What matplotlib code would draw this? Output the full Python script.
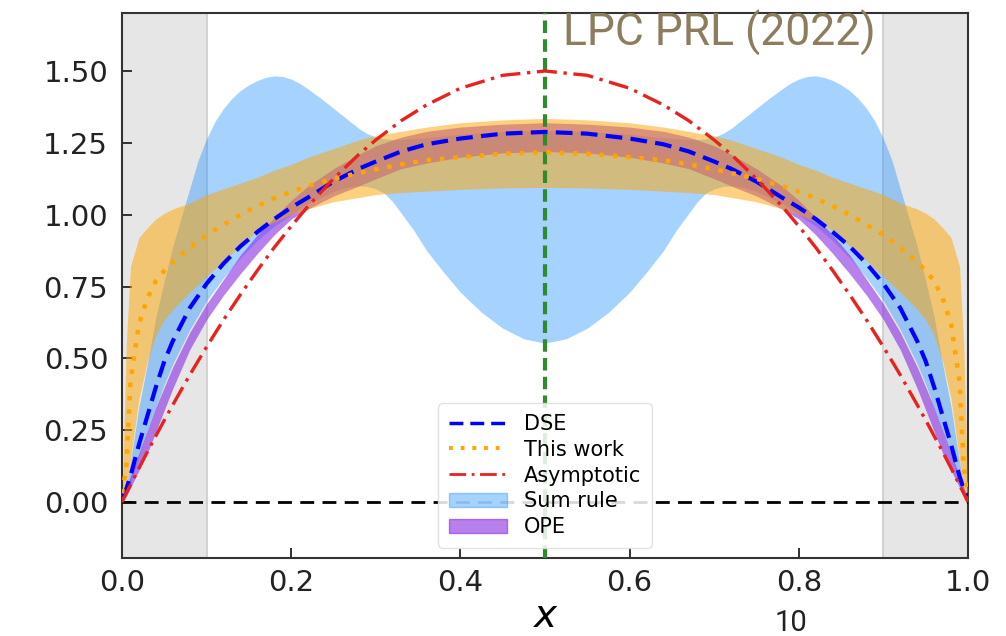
import matplotlib
matplotlib.use("Agg")
import matplotlib.pyplot as plt
from matplotlib.patches import Patch
from matplotlib.lines import Line2D

# sample positions along x
x = [0.0, 0.005, 0.01, 0.02, 0.03, 0.04, 0.05, 0.06, 0.08, 0.10, 0.12, 0.14,
     0.16, 0.18, 0.20, 0.22, 0.25, 0.28, 0.30, 0.33, 0.36, 0.40, 0.45, 0.50,
     0.55, 0.60, 0.64, 0.67, 0.70, 0.72, 0.75, 0.78, 0.80, 0.82, 0.84, 0.86,
     0.88, 0.90, 0.92, 0.94, 0.95, 0.96, 0.97, 0.98, 0.99, 0.995, 1.0]

asymptotic = [0.0, 0.030, 0.059, 0.118, 0.175, 0.230, 0.285, 0.338, 0.442, 0.540, 0.634, 0.722,
              0.806, 0.886, 0.960, 1.030, 1.125, 1.210, 1.260, 1.327, 1.382, 1.440, 1.485, 1.500,
              1.485, 1.440, 1.382, 1.327, 1.260, 1.210, 1.125, 1.030, 0.960, 0.886, 0.806, 0.722,
              0.634, 0.540, 0.442, 0.338, 0.285, 0.230, 0.175, 0.118, 0.059, 0.030, 0.0]

dse = [0.02, 0.045, 0.09, 0.20, 0.30, 0.40, 0.49, 0.56, 0.675, 0.76, 0.83, 0.89,
       0.94, 0.985, 1.025, 1.06, 1.115, 1.16, 1.185, 1.22, 1.245, 1.265, 1.282, 1.288,
       1.282, 1.265, 1.245, 1.22, 1.185, 1.16, 1.115, 1.06, 1.025, 0.985, 0.94, 0.89,
       0.83, 0.76, 0.675, 0.56, 0.49, 0.40, 0.30, 0.20, 0.09, 0.045, 0.02]

this_work = [0.03, 0.12, 0.42, 0.62, 0.71, 0.77, 0.805, 0.835, 0.885, 0.93, 0.965, 1.0,
             1.03, 1.057, 1.08, 1.10, 1.125, 1.145, 1.158, 1.175, 1.19, 1.20, 1.212, 1.217,
             1.212, 1.20, 1.19, 1.175, 1.158, 1.145, 1.125, 1.10, 1.08, 1.057, 1.03, 1.0,
             0.965, 0.93, 0.885, 0.835, 0.805, 0.77, 0.71, 0.62, 0.42, 0.12, 0.03]

work_hi = [0.0, 0.55, 0.82, 0.92, 0.955, 0.985, 1.005, 1.02, 1.04, 1.07, 1.09, 1.11,
           1.13, 1.155, 1.175, 1.20, 1.23, 1.26, 1.275, 1.29, 1.305, 1.32, 1.33, 1.335,
           1.33, 1.32, 1.305, 1.29, 1.275, 1.26, 1.23, 1.20, 1.175, 1.155, 1.13, 1.11,
           1.09, 1.07, 1.04, 1.02, 1.005, 0.985, 0.955, 0.92, 0.82, 0.55, 0.0]

work_lo = [0.0, 0.05, 0.15, 0.36, 0.49, 0.58, 0.635, 0.67, 0.73, 0.785, 0.84, 0.89,
           0.945, 0.975, 1.0, 1.02, 1.045, 1.06, 1.07, 1.077, 1.082, 1.088, 1.093, 1.095,
           1.093, 1.088, 1.082, 1.077, 1.07, 1.06, 1.045, 1.02, 1.0, 0.975, 0.945, 0.89,
           0.84, 0.785, 0.73, 0.67, 0.635, 0.58, 0.49, 0.36, 0.15, 0.05, 0.0]

ope_lo = [0.0, 0.02, 0.05, 0.11, 0.17, 0.245, 0.32, 0.395, 0.53, 0.635, 0.72, 0.795,
          0.865, 0.93, 0.985, 1.02, 1.065, 1.10, 1.125, 1.16, 1.18, 1.20, 1.215, 1.22,
          1.215, 1.20, 1.18, 1.16, 1.125, 1.10, 1.065, 1.02, 0.985, 0.93, 0.865, 0.795,
          0.72, 0.635, 0.53, 0.395, 0.32, 0.245, 0.17, 0.11, 0.05, 0.02, 0.0]

ope_hi = [0.02, 0.05, 0.09, 0.17, 0.25, 0.33, 0.40, 0.47, 0.59, 0.69, 0.775, 0.86,
          0.93, 0.99, 1.05, 1.10, 1.16, 1.21, 1.24, 1.27, 1.29, 1.305, 1.315, 1.32,
          1.315, 1.305, 1.29, 1.27, 1.24, 1.21, 1.16, 1.10, 1.05, 0.99, 0.93, 0.86,
          0.775, 0.69, 0.59, 0.47, 0.40, 0.33, 0.25, 0.17, 0.09, 0.05, 0.02]

# sum rule band is wigglier, so it gets its own denser sampling
x_sum = [0.0, 0.005, 0.01, 0.02, 0.03, 0.04, 0.05, 0.06, 0.07, 0.08, 0.09, 0.10,
         0.11, 0.12, 0.13, 0.14, 0.15, 0.16, 0.17, 0.18, 0.19, 0.20, 0.21, 0.22,
         0.235, 0.25, 0.265, 0.28, 0.29, 0.30, 0.31, 0.32, 0.33, 0.345, 0.36, 0.38,
         0.40, 0.425, 0.45, 0.475, 0.50,
         0.525, 0.55, 0.575, 0.60, 0.62, 0.64, 0.655, 0.67, 0.68, 0.69, 0.70, 0.71,
         0.72, 0.735, 0.75, 0.765, 0.78, 0.79, 0.80, 0.81, 0.82, 0.83, 0.84, 0.85,
         0.86, 0.87, 0.88, 0.89, 0.90, 0.91, 0.92, 0.93, 0.94, 0.95, 0.96, 0.97,
         0.98, 0.99, 0.995, 1.0]

sum_hi = [0.0, 0.05, 0.14, 0.33, 0.48, 0.645, 0.77, 0.89, 0.99, 1.09, 1.19, 1.265,
          1.325, 1.37, 1.405, 1.432, 1.452, 1.467, 1.478, 1.483, 1.481, 1.472, 1.457, 1.437,
          1.405, 1.37, 1.335, 1.30, 1.282, 1.27, 1.264, 1.262, 1.262, 1.265, 1.268, 1.274,
          1.28, 1.285, 1.289, 1.291, 1.292,
          1.291, 1.289, 1.285, 1.28, 1.274, 1.268, 1.265, 1.262, 1.262, 1.264, 1.27, 1.282,
          1.30, 1.335, 1.37, 1.405, 1.437, 1.457, 1.472, 1.481, 1.483, 1.478, 1.467, 1.452,
          1.432, 1.405, 1.37, 1.325, 1.265, 1.19, 1.09, 0.99, 0.89, 0.77, 0.645, 0.48,
          0.33, 0.14, 0.05, 0.0]

sum_lo = [0.0, 0.03, 0.07, 0.16, 0.25, 0.33, 0.41, 0.48, 0.54, 0.60, 0.65, 0.70,
          0.74, 0.78, 0.815, 0.85, 0.88, 0.91, 0.935, 0.96, 0.98, 1.0, 1.02, 1.04,
          1.06, 1.08, 1.095, 1.10, 1.098, 1.09, 1.075, 1.045, 1.005, 0.945, 0.875, 0.80,
          0.73, 0.66, 0.605, 0.568, 0.553,
          0.568, 0.605, 0.66, 0.73, 0.80, 0.875, 0.945, 1.005, 1.045, 1.075, 1.09, 1.098,
          1.10, 1.095, 1.08, 1.06, 1.04, 1.02, 1.0, 0.98, 0.96, 0.935, 0.91, 0.88,
          0.85, 0.815, 0.78, 0.74, 0.70, 0.65, 0.60, 0.54, 0.48, 0.41, 0.33, 0.25,
          0.16, 0.07, 0.03, 0.0]

xticks = [0.0, 0.2, 0.4, 0.6, 0.8, 1.0]
yticks = [0.0, 0.25, 0.5, 0.75, 1.0, 1.25, 1.5]

fig = plt.figure(figsize=(10.06, 6.36), dpi=100)
ax = fig.add_axes([0.1213, 0.1226, 0.8409, 0.8570])

# excluded end-point regions
ax.axvspan(0.0, 0.1, color="#e6e6e6", ec="#cccccc", lw=1.2, zorder=0)
ax.axvspan(0.9, 1.0, color="#e6e6e6", ec="#cccccc", lw=1.2, zorder=0)

ax.fill_between(x_sum, sum_lo, sum_hi, color="dodgerblue", alpha=0.4, lw=0, zorder=1)
ax.fill_between(x, ope_lo, ope_hi, color="blueviolet", alpha=0.6, lw=0, zorder=2)
ax.fill_between(x, work_lo, work_hi, color="orange", alpha=0.5, lw=0, zorder=3)

ax.axhline(0.0, color="black", ls=(0, (5, 3)), lw=2, zorder=4)
ax.axvline(0.5, color="#2e8b2e", ls=(0, (3, 1.5)), lw=3, zorder=4)

ax.plot(x, dse, color="blue", ls=(0, (4, 2)), lw=3, zorder=5)
ax.plot(x, this_work, color="orange", ls=(0, (1, 2)), lw=3.2, zorder=5)
ax.plot(x, asymptotic, color="#e8221e", ls=(0, (6, 2, 1, 2)), lw=2.4, zorder=5)

ax.set_xlim(0, 1)
ax.set_ylim(-0.195, 1.702)
ax.set_xticks(xticks)
ax.set_yticks(yticks)
ax.set_xticklabels(["0.0", "0.2", "0.4", "0.6", "0.8", "1.0"])
ax.set_yticklabels(["0.00", "0.25", "0.50", "0.75", "1.00", "1.25", "1.50"])
ax.tick_params(direction="in", length=7, width=1.3, labelsize=21, colors="#222222",
               pad=10)
ax.tick_params(axis="x", pad=8)
for s in ax.spines.values():
    s.set_linewidth(1.5)
    s.set_color("#333333")
ax.set_xlabel("$x$", fontsize=28, labelpad=0)

handles = [
    Line2D([], [], color="blue", ls=(0, (4, 2)), lw=2.5),
    Line2D([], [], color="orange", ls=(0, (1, 2)), lw=2.8),
    Line2D([], [], color="#e8221e", ls=(0, (6, 2, 1, 2)), lw=2),
    Patch(facecolor="dodgerblue", alpha=0.4, edgecolor="dodgerblue"),
    Patch(facecolor="blueviolet", alpha=0.6, edgecolor="blueviolet"),
]
labels = ["DSE", "This work", "Asymptotic", "Sum rule", "OPE"]
ax.legend(handles, labels, loc="lower center", bbox_to_anchor=(0.5, 0.0),
          fontsize=15, handlelength=2.8, labelspacing=0.28, framealpha=0.85,
          edgecolor="#dddddd", borderpad=0.5)

fig.text(0.5595, 0.985, "LPC PRL (2022)", fontsize=32, color="#8c7d5f",
         family="Roboto", va="top", ha="left")
fig.text(0.786, 0.021, "10", fontsize=21, color="#222222",
         family="Roboto", ha="center", va="center")

fig.savefig("out.png", dpi=100)
